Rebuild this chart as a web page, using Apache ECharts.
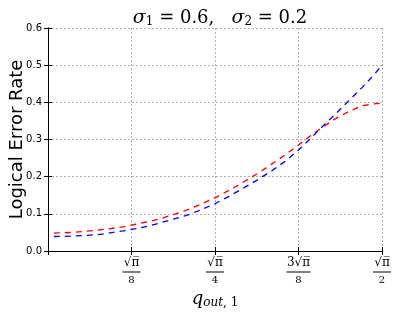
<!DOCTYPE html>
<html><head><meta charset="utf-8">
<script src="https://cdn.jsdelivr.net/npm/echarts@6/dist/echarts.min.js"></script>
<style>html,body{margin:0;padding:0;background:#fff}#c{width:399px;height:315px}</style>
</head><body><div id="c"></div>
<script>
// x in units of sqrt(pi)/8
var xVals = [0.07, 0.3, 0.6, 0.9, 1.05, 1.2, 1.35, 1.5, 1.65, 1.8, 2.0, 2.15, 2.3, 2.5, 2.7, 2.85, 3.0, 3.15, 3.3, 3.45, 3.6, 3.75, 3.9, 4.0];
var redVals = [0.048, 0.050, 0.056, 0.065, 0.072, 0.079, 0.087, 0.098, 0.109, 0.123, 0.143, 0.161, 0.180, 0.207, 0.237, 0.260, 0.285, 0.311, 0.335, 0.357, 0.375, 0.390, 0.396, 0.398];
var blueVals = [0.039, 0.040, 0.044, 0.054, 0.060, 0.067, 0.076, 0.086, 0.095, 0.108, 0.127, 0.145, 0.164, 0.190, 0.219, 0.243, 0.272, 0.304, 0.338, 0.370, 0.404, 0.437, 0.473, 0.500];
var xTickNum = ['', '√π̅', '√π̅', '3√π̅', '√π̅'];
var xTickDen = ['', '8', '4', '8', '2'];
var yTicks = ['0.0', '0.1', '0.2', '0.3', '0.4', '0.5', '0.6'];

function pairs(xs, ys) { return xs.map(function (x, i) { return [x, ys[i]]; }); }
var serif = 'DejaVu Serif';
var chart = echarts.init(document.getElementById('c'), null, {renderer: 'canvas'});
var axisLine = {show: true, lineStyle: {color: '#000', width: 1}};
chart.setOption({
  animation: false,
  backgroundColor: '#fff',
  title: {
    text: '{m|σ}{s|1}{n| = 0.6,   }{m|σ}{s|2}{n| = 0.2}',
    left: 215, top: 3, textAlign: 'center',
    textStyle: {
      fontWeight: 'normal',
      rich: {
        m: {fontFamily: serif, fontStyle: 'italic', fontWeight: 'normal', fontSize: 19, color: '#000'},
        s: {fontFamily: serif, fontWeight: 'normal', fontSize: 12, color: '#000', padding: [8, 0, 0, 0]},
        n: {fontFamily: serif, fontWeight: 'normal', fontSize: 18, color: '#000'}
      }
    }
  },
  grid: {left: 48, right: 17, top: 28, bottom: 64, containLabel: false, outerBoundsMode: 'none'},
  xAxis: [{
    type: 'value', min: 0, max: 4, interval: 1, position: 'bottom',
    axisLine: axisLine,
    axisTick: {show: true, inside: true, length: 4, lineStyle: {color: '#000'}},
    splitLine: {show: true, lineStyle: {color: '#b0b0b0', type: [2, 2], width: 1}},
    axisLabel: {
      margin: 5, color: '#000',
      formatter: function (v) {
        var i = Math.round(v);
        if (!xTickDen[i]) return '';
        var b = i === 3 ? 'b2' : 'b';
        return '{n|' + xTickNum[i] + '}\n{' + b + '| }\n{d|' + xTickDen[i] + '}';
      },
      rich: {
        n: {fontFamily: serif, fontSize: 12, color: '#000', lineHeight: 14, align: 'center'},
        b: {width: 18, height: 1, lineHeight: 4, backgroundColor: '#000', fontSize: 1, align: 'center'},
        b2: {width: 24, height: 1, lineHeight: 4, backgroundColor: '#000', fontSize: 1, align: 'center'},
        d: {fontFamily: serif, fontSize: 10, color: '#000', lineHeight: 12, align: 'center'}
      }
    },
    name: '{q|q}{s|out}{c|, 1}', nameLocation: 'middle', nameGap: 36,
    nameTextStyle: {
      rich: {
        q: {fontFamily: serif, fontStyle: 'italic', fontSize: 18, color: '#000'},
        s: {fontFamily: serif, fontStyle: 'italic', fontSize: 12, color: '#000', padding: [8, 0, 0, 0]},
        c: {fontFamily: serif, fontSize: 12, color: '#000', padding: [8, 0, 0, 0]}
      }
    }
  }, {
    type: 'value', min: 0, max: 4, interval: 1, position: 'top',
    axisLine: axisLine,
    axisTick: {show: true, inside: true, length: 4, lineStyle: {color: '#000'}},
    splitLine: {show: false}, axisLabel: {show: false}
  }],
  yAxis: [{
    type: 'value', min: 0, max: 0.6, interval: 0.1, position: 'left',
    axisLine: axisLine,
    axisTick: {show: true, inside: true, length: 4, lineStyle: {color: '#000'}},
    splitLine: {show: true, lineStyle: {color: '#b0b0b0', type: [2, 2], width: 1}},
    axisLabel: {
      margin: 6, color: '#000', fontFamily: 'DejaVu Sans', fontSize: 10,
      formatter: function (v) { return yTicks[Math.round(v * 10)]; }
    },
    name: 'Logical Error Rate', nameLocation: 'middle', nameGap: 22, nameMoveOverlap: false,
    nameTextStyle: {fontFamily: 'DejaVu Sans', fontSize: 18, color: '#000'}
  }, {
    type: 'value', min: 0, max: 0.6, interval: 0.1, position: 'right',
    axisLine: axisLine,
    axisTick: {show: true, inside: true, length: 4, lineStyle: {color: '#000'}},
    splitLine: {show: false}, axisLabel: {show: false}
  }],
  series: [{
    type: 'line', name: 'red', data: pairs(xVals, redVals), showSymbol: false, symbol: 'none',
    lineStyle: {color: '#ff0000', width: 1.3, type: [6, 5]}, z: 3
  }, {
    type: 'line', name: 'blue', data: pairs(xVals, blueVals), showSymbol: false, symbol: 'none',
    lineStyle: {color: '#0000ff', width: 1.3, type: [6, 5]}, z: 4
  }]
});
</script></body></html>
